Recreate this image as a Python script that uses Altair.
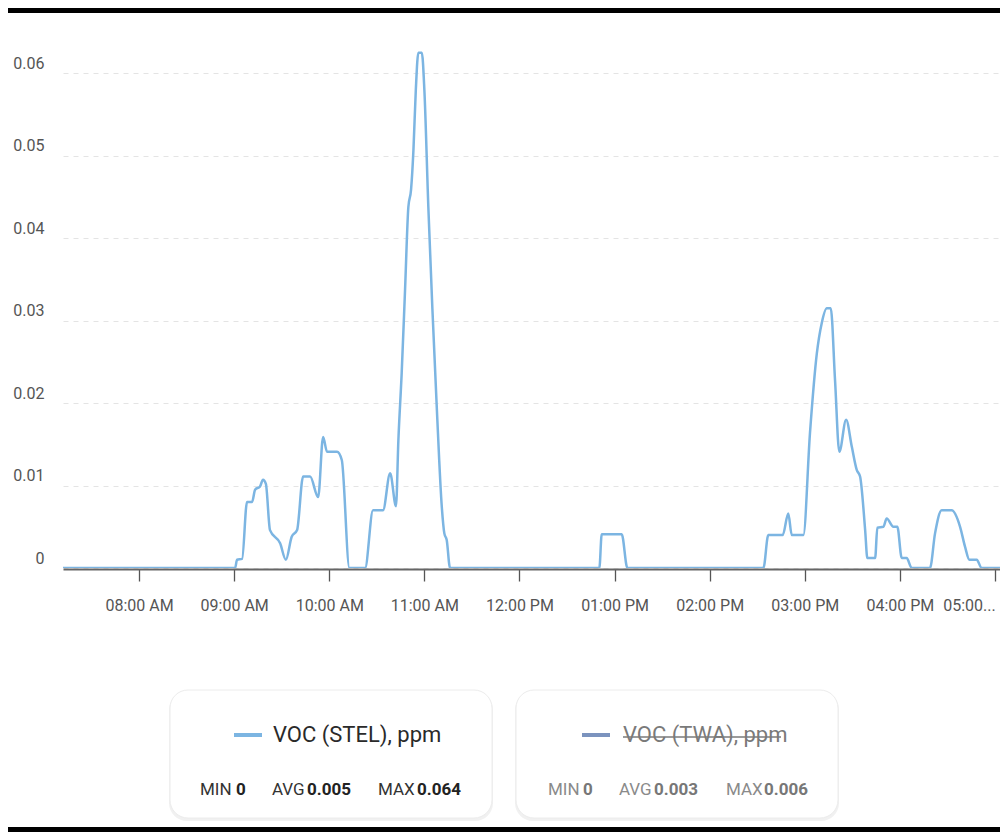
import altair as alt
import pandas as pd

# ---------------- data ----------------
times = [
    "07:12:00", "09:00:36", "09:01:48", "09:05:00", "09:08:06", "09:11:18", "09:13:12",
    "09:16:18", "09:18:12", "09:20:00", "09:22:36", "09:29:00", "09:32:36", "09:36:18",
    "09:39:42", "09:43:30", "09:47:54", "09:53:00", "09:56:06", "09:58:36", "10:04:54",
    "10:07:54", "10:12:42", "10:22:36", "10:27:36", "10:33:54", "10:38:24", "10:42:06",
    "10:43:36", "10:45:42", "10:47:48", "10:49:54", "10:51:36", "10:53:06", "10:54:36",
    "10:56:12", "10:58:24", "11:00:00", "11:02:30", "11:05:00", "11:07:48", "11:11:00",
    "11:12:36", "11:14:06", "11:16:12", "12:50:24", "12:51:54", "13:04:30", "13:08:06",
    "14:33:54", "14:37:00", "14:46:06", "14:49:36", "14:51:48", "14:59:06", "15:03:18",
    "15:07:36", "15:10:42", "15:13:54", "15:16:24", "15:19:06", "15:21:48", "15:26:06",
    "15:29:42", "15:32:48", "15:34:54", "15:38:06", "15:39:30", "15:44:24", "15:45:48",
    "15:49:36", "15:51:42", "15:55:54", "15:58:24", "16:01:12", "16:04:18", "16:07:30",
    "16:19:00", "16:22:12", "16:26:24", "16:32:42", "16:38:00", "16:41:06", "16:43:54",
    "16:48:30", "16:51:36", "17:08:18",
]
voc_stel = [
    0, 0, 0.001, 0.0011, 0.008, 0.008, 0.0095,
    0.0099, 0.0107, 0.0102, 0.0046, 0.003, 0.001, 0.0038,
    0.0046, 0.0111, 0.0111, 0.0086, 0.0159, 0.0141, 0.0141,
    0.0131, 0, 0, 0.007, 0.007, 0.0115, 0.0075,
    0.0155, 0.0237, 0.0337, 0.0438, 0.0459, 0.0507, 0.058,
    0.0625, 0.0625, 0.058, 0.0438, 0.0317, 0.0196, 0.0074,
    0.0042, 0.0034, 0, 0, 0.0041, 0.0041, 0,
    0, 0.004, 0.004, 0.0066, 0.004, 0.004, 0.0164,
    0.026, 0.0297, 0.0315, 0.0315, 0.0228, 0.0141, 0.018,
    0.0147, 0.0119, 0.0111, 0.0046, 0.0012, 0.0012, 0.0049,
    0.005, 0.006, 0.005, 0.005, 0.0012, 0.0012, 0,
    0, 0.0042, 0.007, 0.007, 0.005, 0.0026, 0.001,
    0.001, 0, 0,
]
y_ticks = [0, 0.01, 0.02, 0.03, 0.04, 0.05, 0.06]
x_tick_hours = [8, 9, 10, 11, 12, 13, 14, 15, 16, 17]

series_names = ["VOC (STEL), ppm", "VOC (TWA), ppm"]
series_min = ["0", "0"]
series_avg = ["0.005", "0.003"]
series_max = ["0.064", "0.006"]

# ---------------- styling ----------------
FONT = "Roboto"
LINE_COLORS = ["#7cb5e2", "#7b93be"]
DAY = dict(year=2024, month=1, date=1)

df = pd.DataFrame({"time": ["2024-01-01T" + t for t in times], "value": voc_stel})

W, H = 937, 544
PAD_L, PAD_T = 55, 16
PAD_B = 264


def cx(px):
    return px - 63


def cy(py):
    return py - 24


dummy = alt.Data(values=[{}])

line = alt.Chart(df).mark_line(
    color=LINE_COLORS[0], strokeWidth=2.5, interpolate="monotone", clip=True
).encode(
    x=alt.X(
        "time:T",
        title=None,
        scale=alt.Scale(domain=[alt.DateTime(hours=7, minutes=12, **DAY),
                                alt.DateTime(hours=17, minutes=3, seconds=11, **DAY)]),
        axis=alt.Axis(
            values=[alt.DateTime(hours=h, **DAY) for h in x_tick_hours],
            labelExpr="hours(datum.value) == 17 ? '05:00...' : timeFormat(datum.value, '%I:%M %p')",
            labelOffset=alt.condition("hours(datum.value) == 17", alt.value(-26), alt.value(0)),
            grid=False,
            domainColor="#666666",
            domainWidth=2,
            tickColor="#555555",
            tickWidth=1.3,
            tickSize=12,
            labelPadding=16,
            labelFont=FONT,
            labelFontSize=16,
            labelColor="#555555",
            labelOverlap=False,
            labelFlush=False,
            offset=1,
        ),
    ),
    y=alt.Y(
        "value:Q",
        title=None,
        scale=alt.Scale(domain=[0, 0.066], nice=False),
        axis=alt.Axis(
            values=y_ticks,
            format=".2~f",
            domain=False,
            ticks=False,
            grid=True,
            gridColor="#e4e4e4",
            gridDash=[5, 5],
            gridWidth=1,
            labelFont=FONT,
            labelFontSize=16,
            labelColor="#555555",
            labelPadding=19,
            labelOffset=-10,
        ),
    ),
)


def rect(x1, y1, x2, y2, fill, stroke=None, r=0, sw=1):
    kw = dict(fill=fill, cornerRadius=r)
    if stroke:
        kw.update(stroke=stroke, strokeWidth=sw)
    return alt.Chart(dummy).mark_rect(**kw).encode(
        x=alt.value(cx(x1)), x2=alt.value(cx(x2)), y=alt.value(cy(y1)), y2=alt.value(cy(y2))
    )


def hline(x1, x2, y, color, w):
    return alt.Chart(dummy).mark_rule(color=color, strokeWidth=w).encode(
        x=alt.value(cx(x1)), x2=alt.value(cx(x2)), y=alt.value(cy(y))
    )


def txt(t, px, py, size, color, weight="normal", align="left"):
    return alt.Chart(dummy).mark_text(
        text=t, font=FONT, fontSize=size, fontWeight=weight, color=color,
        align=align, baseline="middle"
    ).encode(x=alt.value(cx(px)), y=alt.value(cy(py)))


layers = [line]

# frame bars of the screenshot
layers.append(rect(8, 8, 1000, 13, "#000000"))
layers.append(rect(8, 827, 1000, 832, "#000000"))

# legend cards
boxes = [(170, 492), (516, 838)]
label_x = [273, 623]
swatch_x = [(234, 262), (582, 610)]
stat_pos = [
    [(200, 236), (272, 307), (378, 417)],
    [(548, 583), (619, 654), (726, 764)],
]
lab_colors = ["#333333", "#8a8a8a"]
num_colors = ["#222222", "#777777"]
name_colors = ["#2a2a2a", "#7a7a7a"]

for i in range(2):
    bx1, bx2 = boxes[i]
    layers.append(rect(bx1 - 1, 692, bx2 + 1, 821, "#f1f1f1", r=18))
    layers.append(rect(bx1, 690, bx2, 818, "#ffffff", stroke="#ececec", r=18))
    sx1, sx2 = swatch_x[i]
    layers.append(hline(sx1, sx2, 735, LINE_COLORS[i], 4))
    layers.append(txt(series_names[i], label_x[i], 735, 22, name_colors[i]))
    stats = [("MIN", series_min[i]), ("AVG", series_avg[i]), ("MAX", series_max[i])]
    for (lx, nx), (lab, num) in zip(stat_pos[i], stats):
        layers.append(txt(lab, lx, 790, 17, lab_colors[i]))
        layers.append(txt(num, nx, 790, 17, num_colors[i], weight="bold"))

# strikethrough for the hidden series
layers.append(hline(623, 781, 737, "#7a7a7a", 1.5))

chart = alt.layer(*layers).properties(
    width=W,
    height=H,
    autosize=alt.AutoSizeParams(type="none"),
    padding={"left": PAD_L, "top": PAD_T, "right": 0, "bottom": PAD_B},
).configure_view(stroke=None)

chart.save("out.html", embed_options={"renderer": "svg", "actions": False})
